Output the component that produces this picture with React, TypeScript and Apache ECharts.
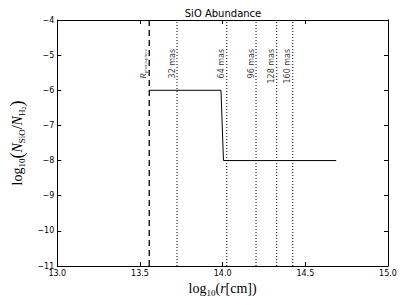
import React, { useEffect, useRef } from "react";
import * as echarts from "echarts";

// ---- data ----
const xMin = 13.0;
const xMax = 15.0;
const xStep = 0.5;
const yMin = -11;
const yMax = -4;
const yStep = 1;

// SiO abundance profile (log10 r [cm], log10 N_SiO/N_H2)
const abundanceR = [13.556, 13.99, 14.005, 14.687];
const abundanceVal = [-6, -6, -8, -8];

// photosphere radius
const photosphereR = 13.556;

// angular-scale markers
const masLabels = ["32 mas", "64 mas", "96 mas", "128 mas", "160 mas"];
const masR = [13.724, 14.025, 14.202, 14.327, 14.424];
const labelTopY = -4.82;

const serif = "'Liberation Serif', 'DejaVu Serif', serif";
const sans = "'DejaVu Sans', sans-serif";

export default function App() {
  const ref = useRef<HTMLDivElement>(null);
  useEffect(() => {
    if (!ref.current) return;
    const chart = echarts.init(ref.current, null, { renderer: "svg" });

    const fmtMinus = (v: number) => (v < 0 ? "\u2212" + Math.abs(v) : String(v));

    const xRich = {
      n: { fontFamily: serif, fontSize: 14, color: "#000", lineHeight: 18 },
      i: { fontFamily: serif, fontSize: 14, fontStyle: "italic", color: "#000", lineHeight: 18 },
      s: { fontFamily: serif, fontSize: 9, color: "#000", verticalAlign: "bottom", lineHeight: 14 },
    };
    const yRich = {
      n: { fontFamily: serif, fontSize: 14, color: "#000", lineHeight: 19 },
      i: { fontFamily: serif, fontSize: 14, fontStyle: "italic", color: "#000", lineHeight: 19 },
      s: { fontFamily: serif, fontSize: 9, color: "#000", verticalAlign: "bottom", lineHeight: 15 },
      ss: { fontFamily: serif, fontSize: 6, color: "#000", verticalAlign: "bottom", lineHeight: 13 },
      p: { fontFamily: serif, fontSize: 18, color: "#000", lineHeight: 19 },
    };

    const dotted = masR.map((r) => ({
      type: "line",
      data: [
        [r, yMin],
        [r, yMax],
      ],
      showSymbol: false,
      symbol: "none",
      silent: true,
      lineStyle: { color: "#000", width: 1, type: [1, 2] },
      z: 2,
    }));

    chart.setOption({
      animation: false,
      title: {
        text: "SiO Abundance",
        left: 218,
        textAlign: "center",
        top: 3,
        textStyle: { fontFamily: sans, fontSize: 10, fontWeight: "normal", color: "#000" },
      },
      grid: { left: 49, right: 19, top: 20, bottom: 39 },
      xAxis: [
        {
          type: "value",
          min: xMin,
          max: xMax,
          interval: xStep,
          position: "bottom",
          axisLine: { lineStyle: { color: "#000", width: 1 } },
          axisTick: { inside: true, length: 4, lineStyle: { color: "#000" } },
          axisLabel: {
            margin: 3,
            fontFamily: sans,
            fontSize: 8,
            color: "#000",
            formatter: (v: number) => v.toFixed(1),
          },
          splitLine: { show: false },
          name: "{n|log}{s|10}{n|(}{i|r}{n|[cm])}",
          nameLocation: "middle",
          nameGap: 11,
          nameTextStyle: { rich: xRich, verticalAlign: "top" },
        },
        {
          type: "value",
          min: xMin,
          max: xMax,
          interval: xStep,
          position: "top",
          axisLine: { lineStyle: { color: "#000", width: 1 } },
          axisTick: { inside: true, length: 4, lineStyle: { color: "#000" } },
          axisLabel: { show: false },
          splitLine: { show: false },
        },
      ],
      yAxis: [
        {
          type: "value",
          min: yMin,
          max: yMax,
          interval: yStep,
          position: "left",
          axisLine: { lineStyle: { color: "#000", width: 1 } },
          axisTick: { inside: true, length: 4, lineStyle: { color: "#000" } },
          axisLabel: {
            margin: 3,
            fontFamily: sans,
            fontSize: 8,
            color: "#000",
            formatter: fmtMinus,
          },
          splitLine: { show: false },
          name: "{n|log}{s|10}{p|(}{i|N}{s|SiO}{n|/}{i|N}{s|H}{ss|2}{p|)}",
          nameLocation: "middle",
          nameRotate: 90,
          nameGap: 22,
          nameTextStyle: { rich: yRich },
        },
        {
          type: "value",
          min: yMin,
          max: yMax,
          interval: yStep,
          position: "right",
          axisLine: { lineStyle: { color: "#000", width: 1 } },
          axisTick: { inside: true, length: 4, lineStyle: { color: "#000" } },
          axisLabel: { show: false },
          splitLine: { show: false },
        },
      ],
      series: [
        {
          type: "line",
          data: abundanceR.map((r, i) => [r, abundanceVal[i]]),
          showSymbol: false,
          symbol: "none",
          lineStyle: { color: "#000", width: 1 },
          z: 3,
        },
        {
          type: "line",
          data: [
            [photosphereR, yMin],
            [photosphereR, yMax],
          ],
          showSymbol: false,
          symbol: "none",
          lineStyle: { color: "#000", width: 1.3, type: [6, 4] },
          z: 3,
        },
        ...dotted,
        {
          type: "scatter",
          symbolSize: 0,
          itemStyle: { color: "transparent" },
          silent: true,
          data: masR.map((r, i) => ({ value: [r, labelTopY], name: masLabels[i] })),
          label: {
            show: true,
            position: "inside",
            rotate: 90,
            align: "right",
            verticalAlign: "bottom",
            padding: [0, 0, 1, 0],
            formatter: (p: any) => p.name,
            fontFamily: sans,
            fontSize: 8,
            color: "#000",
            textBorderWidth: 0,
          },
          z: 4,
        },
        {
          type: "scatter",
          symbolSize: 0,
          itemStyle: { color: "transparent" },
          silent: true,
          data: [{ value: [photosphereR, labelTopY], name: "R" }],
          label: {
            show: true,
            position: "inside",
            rotate: 90,
            align: "right",
            verticalAlign: "bottom",
            padding: [0, 0, 1, 0],
            formatter: () => "{r|R}{s|photosphere}",
            textBorderWidth: 0,
            rich: {
              r: { fontFamily: serif, fontStyle: "italic", fontSize: 9, color: "#000", lineHeight: 11 },
              s: { fontFamily: serif, fontSize: 5, color: "#000", verticalAlign: "bottom", lineHeight: 9 },
            },
          },
          z: 4,
        },
      ],
    });
    return () => chart.dispose();
  }, []);
  return (
    <div
      ref={ref}
      style={{ position: "absolute", left: 0, top: 0, width: 407, height: 305 }}
    />
  );
}
